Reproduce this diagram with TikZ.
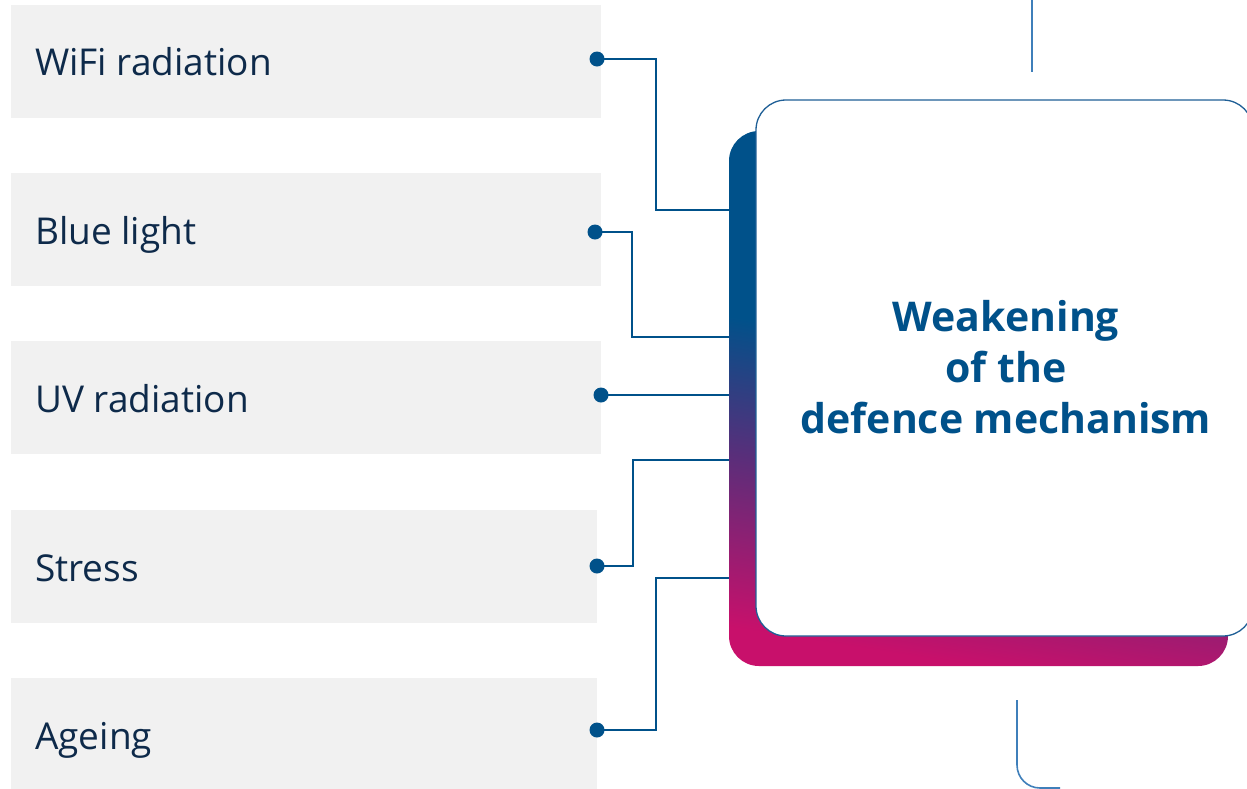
\documentclass[tikz,border=0pt]{standalone}
\usepackage{fontspec}
\setmainfont{Open Sans}
\usetikzlibrary{calc}
\definecolor{boxgray}{HTML}{F1F1F1}
\definecolor{navy}{HTML}{00518A}
\definecolor{labeltext}{HTML}{0E2A4A}
\definecolor{magentaC}{HTML}{C8106B}
\definecolor{midC}{HTML}{5A2E7A}
\definecolor{edgeblue}{HTML}{1F5F96}
\definecolor{thinblue}{HTML}{3F7FBA}
\pgfdeclareverticalshading{gradshade}{100bp}{color(0bp)=(magentaC); color(25bp)=(magentaC); color(41bp)=(midC); color(54bp)=(navy); color(100bp)=(navy)}
\tikzset{
  graybox/.style={fill=boxgray, draw=none, rectangle, anchor=north west, inner sep=0pt},
  label/.style={anchor=base west, inner sep=0pt, text=labeltext, font=\fontsize{37}{40}\selectfont},
  dot/.style={circle, fill=navy, draw=none, minimum size=15pt, inner sep=0pt},
  conn/.style={draw=navy, line width=2pt},
}
\begin{document}
\begin{tikzpicture}[x=1pt,y=-1pt]
\useasboundingbox (0,0) rectangle (1247,788);
\clip (0,0) rectangle (1247,788);
% gray boxes
\node[graybox, minimum width=590pt, minimum height=113pt] (b1) at (11,5) {};
\node[graybox, minimum width=590pt, minimum height=113pt] (b2) at (11,173) {};
\node[graybox, minimum width=590pt, minimum height=113pt] (b3) at (11,341) {};
\node[graybox, minimum width=586pt, minimum height=113pt] (b4) at (11,510) {};
\node[graybox, minimum width=586pt, minimum height=113pt] (b5) at (11,678) {};
% labels
\node[label] (l1) at (35,75) {WiFi radiation};
\node[label] (l2) at (35,244) {Blue light};
\node[label] (l3) at (35,412) {UV radiation};
\node[label] (l4) at (35,581) {Stress};
\node[label] (l5) at (35,749) {Ageing};
% thin decorative lines
\coordinate (t1) at (1032,0);
\coordinate (t2) at (1032,72);
\draw[thinblue, line width=1.6pt] (t1) -- (t2);
\coordinate (u1) at (1017,700);
\coordinate (u2) at (1060,788);
\draw[thinblue, line width=1.6pt, rounded corners=23pt] (u1) |- (u2);
% gradient box
\node[rectangle, rounded corners=30pt, minimum width=499pt, minimum height=535pt,
      inner sep=0pt, draw=none, shading=gradshade, shading angle=-9] (grad) at (978.5,398.5) {};
% white box
\node[rectangle, rounded corners=30pt, minimum width=497pt, minimum height=536pt,
      inner sep=0pt, fill=white, draw=edgeblue, line width=1.3pt] (main) at (1004.5,368) {};
\node[align=center, text=navy, font=\bfseries\fontsize{41}{51}\selectfont, inner sep=0pt] (title) at (1006,367)
  {Weakening\\of the\\defence mechanism};
% dots
\node[dot] (d1) at (597,59) {};
\node[dot] (d2) at (595,232) {};
\node[dot] (d3) at (601,395) {};
\node[dot] (d4) at (597,566) {};
\node[dot] (d5) at (597,730) {};
% connector ends on gradient box edge
\coordinate (g1) at (729,210);
\coordinate (g2) at (729,337);
\coordinate (g3) at (729,395);
\coordinate (g4) at (729,460);
\coordinate (g5) at (729,578);
\draw[conn] (d1.center) -| ([xshift=-73pt]g1) -- (g1);
\draw[conn] (d2.center) -| ([xshift=-97pt]g2) -- (g2);
\draw[conn] (d3.center) -- (g3);
\draw[conn] (d4.center) -| ([xshift=-96pt]g4) -- (g4);
\draw[conn] (d5.center) -| ([xshift=-73pt]g5) -- (g5);
\end{tikzpicture}
\end{document}
